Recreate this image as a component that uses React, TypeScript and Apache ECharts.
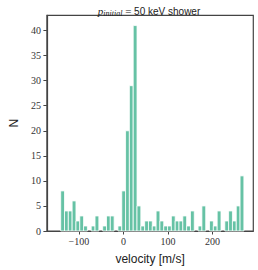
import React, { useEffect, useRef } from "react";
import * as echarts from "echarts";

const binStart = -141;
const binWidth = 8.58;
const counts = [
  8, 4, 4, 6, 2, 3, 1, 0, 1, 3, 0, 1, 3, 3, 0, 1, 8, 20, 29, 41, 5, 1, 2, 2,
  1, 4, 2, 1, 1, 3, 2, 2, 3, 1, 4, 0, 1, 5, 0, 2, 1, 4, 0, 2, 4, 2, 5, 11,
];
const xTicks = [-100, 0, 100, 200];
const yTicks = [0, 5, 10, 15, 20, 25, 30, 35, 40];
const xRange = [-172, 292];
const yRange = [0, 43.05];

const serif = "'Liberation Serif', 'DejaVu Serif', serif";
const sans = "'Liberation Sans', 'DejaVu Sans', sans-serif";
const frame = "#444444";

export default function App() {
  const ref = useRef<HTMLDivElement>(null);
  useEffect(() => {
    if (!ref.current) return;
    const chart = echarts.init(ref.current, null, { renderer: "svg" });
    const data = counts.map((c, i) => [
      binStart + i * binWidth,
      binStart + (i + 1) * binWidth,
      c,
    ]);
    chart.setOption({
      animation: false,
      backgroundColor: "#ffffff",
      title: {
        text: "{p|p}{sub|initial}{eq| = }{n|50 keV shower}",
        left: 144,
        top: 0,
        textAlign: "center",
        textStyle: {
          fontWeight: "normal",
          rich: {
            p: { fontFamily: serif, fontStyle: "italic", fontWeight: "normal", fontSize: 11, color: "#222" },
            sub: {
              fontFamily: serif,
              fontStyle: "italic",
              fontWeight: "normal",
              fontSize: 8,
              color: "#222",
              padding: [4, 0, 0, 0],
            },
            eq: { fontFamily: serif, fontWeight: "normal", fontSize: 11, color: "#222" },
            n: { fontFamily: sans, fontWeight: "normal", fontSize: 10, color: "#222" },
          },
        },
      },
      grid: {
        left: 35.7,
        right: 4.7,
        top: 15.3,
        bottom: 36.7,
        show: true,
        borderColor: frame,
        borderWidth: 1.2,
        containLabel: false,
      },
      xAxis: {
        type: "value",
        min: xRange[0],
        max: xRange[1],
        name: "velocity [m/s]",
        nameLocation: "middle",
        nameGap: 22,
        nameTextStyle: { fontFamily: sans, fontSize: 12, color: "#222" },
        splitLine: { show: false },
        axisLine: { show: true, onZero: false, lineStyle: { color: frame, width: 1.2 } },
        axisTick: {
          show: true,
          length: 3.5,
          lineStyle: { color: frame, width: 1 },
          customValues: xTicks,
        },
        axisLabel: {
          customValues: xTicks,
          fontFamily: serif,
          fontSize: 10,
          color: "#333",
          margin: 5,
          formatter: (v: number) => (v < 0 ? "\u2212" + Math.abs(v) : String(v)),
        },
      },
      yAxis: {
        type: "value",
        min: yRange[0],
        max: yRange[1],
        name: "N",
        nameLocation: "middle",
        nameGap: 24,
        nameTextStyle: { fontFamily: sans, fontSize: 12, color: "#222" },
        splitLine: { show: false },
        axisLine: { show: true, onZero: false, lineStyle: { color: frame, width: 1.2 } },
        axisTick: {
          show: true,
          length: 3.5,
          lineStyle: { color: frame, width: 1 },
          customValues: yTicks,
        },
        axisLabel: {
          customValues: yTicks,
          fontFamily: serif,
          fontSize: 10,
          color: "#333",
          margin: 6,
        },
      },
      series: [
        {
          type: "custom",
          data,
          encode: { x: [0, 1], y: 2 },
          renderItem: (params: any, api: any) => {
            const x0 = api.value(0);
            const x1 = api.value(1);
            const y = api.value(2);
            if (!y) return null;
            const p0 = api.coord([x0, y]);
            const p1 = api.coord([x1, 0]);
            return {
              type: "rect",
              shape: {
                x: p0[0],
                y: p0[1],
                width: p1[0] - p0[0],
                height: p1[1] - p0[1],
              },
              style: { fill: "#66c2a5", stroke: "#ffffff", lineWidth: 0.8 },
            };
          },
        },
      ],
    });
    return () => chart.dispose();
  }, []);
  return (
    <div
      ref={ref}
      style={{ position: "absolute", left: 0, top: 0, width: 258, height: 270 }}
    />
  );
}
